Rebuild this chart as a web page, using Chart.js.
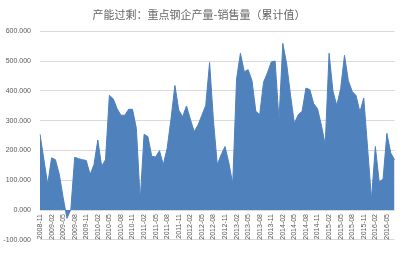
<!DOCTYPE html>
<html>
<head>
<meta charset="utf-8">
<script src="https://cdn.jsdelivr.net/npm/chart.js@4.4.1/dist/chart.umd.min.js"></script>
<style>
html,body{margin:0;padding:0;background:#fff;}
#wrap{width:407px;height:253px;position:relative;}
</style>
</head>
<body>
<div id="wrap"><canvas id="c" width="407" height="253"></canvas></div>
<script>
const chartTitle = "产能过剩：重点钢企产量-销售量（累计值）";
const months = [
"2008-11","2008-12",
"2009-01","2009-02","2009-03","2009-04","2009-05","2009-06","2009-07","2009-08","2009-09","2009-10","2009-11","2009-12",
"2010-01","2010-02","2010-03","2010-04","2010-05","2010-06","2010-07","2010-08","2010-09","2010-10","2010-11","2010-12",
"2011-01","2011-02","2011-03","2011-04","2011-05","2011-06","2011-07","2011-08","2011-09","2011-10","2011-11","2011-12",
"2012-01","2012-02","2012-03","2012-04","2012-05","2012-06","2012-07","2012-08","2012-09","2012-10","2012-11","2012-12",
"2013-01","2013-02","2013-03","2013-04","2013-05","2013-06","2013-07","2013-08","2013-09","2013-10","2013-11","2013-12",
"2014-01","2014-02","2014-03","2014-04","2014-05","2014-06","2014-07","2014-08","2014-09","2014-10","2014-11","2014-12",
"2015-01","2015-02","2015-03","2015-04","2015-05","2015-06","2015-07","2015-08","2015-09","2015-10","2015-11","2015-12",
"2016-01","2016-02","2016-03","2016-04","2016-05","2016-06","2016-07"
];
const surplus = [
254,170,
86,175,169,120,42,-28,2,177,172,169,166,119,
152,235,147,169,385,373,340,318,318,338,338,274,
33,254,246,180,178,199,152,208,307,418,335,313,
349,305,263,285,318,351,495,300,152,185,213,158,
88,440,526,464,471,434,331,320,429,460,497,500,
302,559,490,385,291,320,331,409,404,357,340,285,
219,526,399,351,407,519,434,398,384,329,376,208,
36,213,95,103,257,191,169
];
const yMin = -100, yMax = 600, yStep = 100;
const labelEvery = 3;

new Chart(document.getElementById('c'), {
  type: 'line',
  data: {
    labels: months,
    datasets: [{
      data: surplus,
      fill: 'origin',
      backgroundColor: '#4F81BD',
      borderColor: '#4F81BD',
      borderWidth: 1,
      pointRadius: 0,
      tension: 0
    }]
  },
  options: {
    responsive: false,
    animation: false,
    layout: { padding: { left: 0, right: 9, bottom: 7, top: 0 } },
    plugins: {
      legend: { display: false },
      tooltip: { enabled: false },
      title: {
        display: true,
        text: chartTitle,
        color: '#666666',
        font: { family: '"Noto Sans CJK SC", sans-serif', size: 11, weight: 'normal' },
        padding: { top: 8, bottom: 10 }
      }
    },
    scales: {
      x: {
        position: { y: 0 },
        offset: false,
        grid: { display: false, drawTicks: false },
        border: { display: true, color: '#d9d9d9', width: 1 },
        ticks: {
          autoSkip: false,
          minRotation: 90,
          maxRotation: 90,
          padding: 4,
          color: '#595959',
          font: { family: '"Liberation Sans", sans-serif', size: 7 },
          callback: function(v, i) { return i % labelEvery === 0 ? months[i] : ''; }
        }
      },
      y: {
        min: yMin,
        max: yMax,
        afterFit: function(s) { s.width = 40; },
        grid: { color: '#d9d9d9', lineWidth: 1, drawTicks: false },
        border: { display: false },
        ticks: {
          stepSize: yStep,
          padding: 9,
          color: '#595959',
          font: { family: '"Liberation Sans", sans-serif', size: 7 },
          callback: function(v) { return v.toFixed(3); }
        }
      }
    }
  }
});
</script>
</body>
</html>
